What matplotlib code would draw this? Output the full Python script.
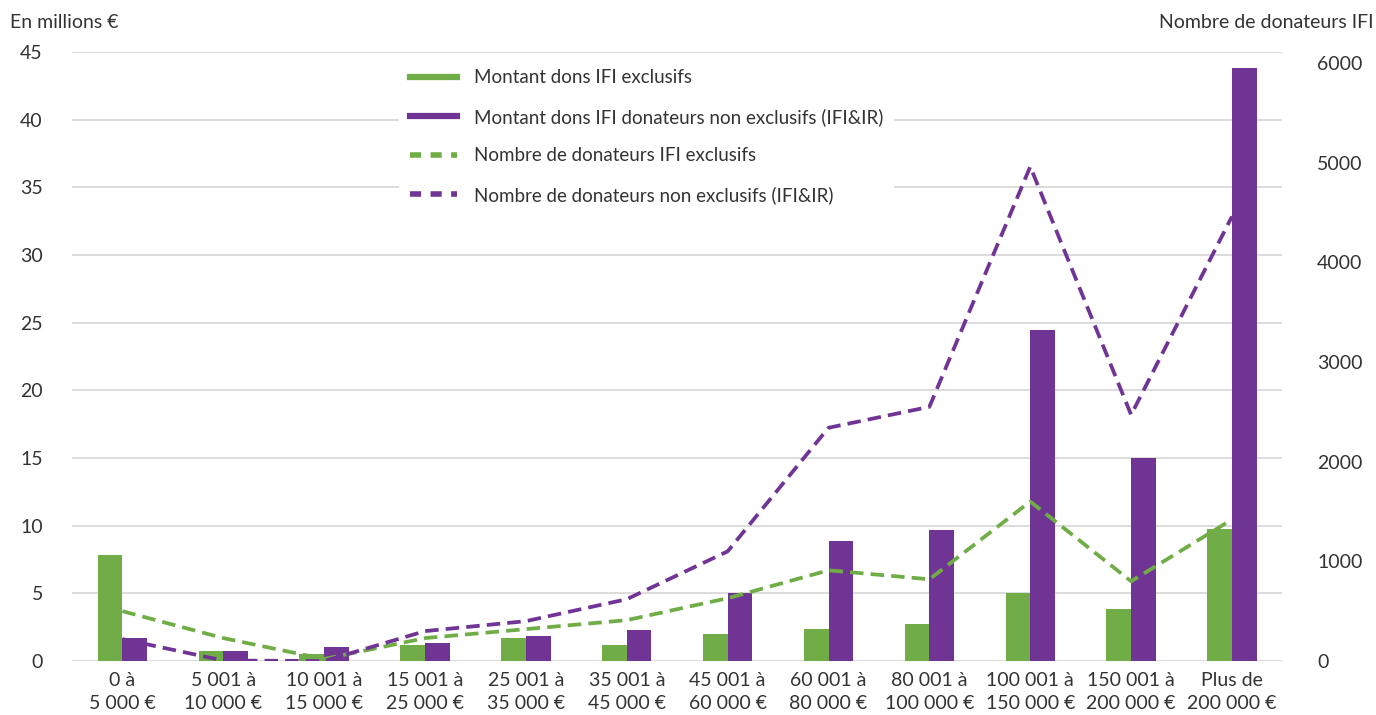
import numpy as np
import matplotlib
matplotlib.use("Agg")
import matplotlib.pyplot as plt
from matplotlib.lines import Line2D

plt.rcParams['font.family'] = ['Lato', 'DejaVu Sans']

# Données
categories = ["0 à\n5 000 €", "5 001 à\n10 000 €", "10 001 à\n15 000 €", "15 001 à\n25 000 €",
              "25 001 à\n35 000 €", "35 001 à\n45 000 €", "45 001 à\n60 000 €", "60 001 à\n80 000 €",
              "80 001 à\n100 000 €", "100 001 à\n150 000 €", "150 001 à\n200 000 €", "Plus de\n200 000 €"]
montant_exclusifs = [7.8, 0.75, 0.5, 1.2, 1.7, 1.2, 2.0, 2.4, 2.75, 5.0, 3.85, 9.75]
montant_non_exclusifs = [1.7, 0.75, 1.05, 1.3, 1.85, 2.3, 5.0, 8.9, 9.7, 24.45, 15.0, 43.8]
nb_exclusifs = [500, 230, 20, 230, 320, 410, 630, 910, 820, 1600, 800, 1420]
nb_non_exclusifs = [220, 5, 0, 300, 400, 620, 1100, 2340, 2550, 4960, 2470, 4460]

green = '#70ad47'
purple = '#703594'
text_col = '#333333'
grid_col = '#d9d9d9'

fig = plt.figure(figsize=(13.76, 7.15), dpi=100)
ax1 = fig.add_axes([0.0523, 0.0755, 0.8797, 0.8518])
ax2 = ax1.twinx()

x = np.arange(len(categories))
w = 0.245
ax1.bar(x - w / 2, montant_exclusifs, w, color=green, label='Montant dons IFI exclusifs', zorder=3)
ax1.bar(x + w / 2, montant_non_exclusifs, w, color=purple,
        label='Montant dons IFI donateurs non exclusifs (IFI&IR)', zorder=3)

ax2.plot(x, nb_exclusifs, color=green, lw=2.7, dashes=(3.6, 1.9),
         label='Nombre de donateurs IFI exclusifs')
ax2.plot(x, nb_non_exclusifs, color=purple, lw=2.7, dashes=(3.6, 1.9),
         label='Nombre de donateurs non exclusifs (IFI&IR)')

ax1.set_xlim(-0.5, len(categories) - 0.5)
ax1.set_ylim(0, 45)
ax1.set_yticks(np.arange(0, 46, 5))
ax2.set_ylim(0, 6110)
ax2.set_yticks(np.arange(0, 6001, 1000))

ax1.yaxis.grid(True, color=grid_col, lw=1.3, zorder=0)
ax1.set_axisbelow(True)
for a in (ax1, ax2):
    for s in a.spines.values():
        s.set_visible(False)
    a.tick_params(length=0, colors=text_col, labelsize=14)
ax1.tick_params(axis='y', pad=21)
ax2.tick_params(axis='y', pad=25)
ax1.set_xticks(x)
ax1.set_xticklabels(categories, fontsize=14, linespacing=1.45)
ax1.tick_params(axis='x', pad=8)

fig.text(0.007, 0.968, "En millions €", fontsize=14, color=text_col, ha='left', va='center')
fig.text(0.998, 0.968, "Nombre de donateurs IFI", fontsize=14, color=text_col, ha='right', va='center')

h1, l1 = ax1.get_legend_handles_labels()
h2, l2 = ax2.get_legend_handles_labels()
handles = [Line2D([], [], color=green, lw=4.5), Line2D([], [], color=purple, lw=4.5),
           Line2D([], [], color=green, lw=4, dashes=(2.0, 1.7)),
           Line2D([], [], color=purple, lw=4, dashes=(2.0, 1.7))]
leg = ax2.legend(handles, l1 + l2, loc='upper left', bbox_to_anchor=(0.27, 0.99),
                 frameon=True, facecolor='white', edgecolor='none', framealpha=1,
                 fontsize=13.5, labelspacing=1.15, handlelength=2.5, handletextpad=0.9,
                 borderpad=0.6, borderaxespad=0)
for t in leg.get_texts():
    t.set_color(text_col)

fig.savefig('out.png', dpi=100)
